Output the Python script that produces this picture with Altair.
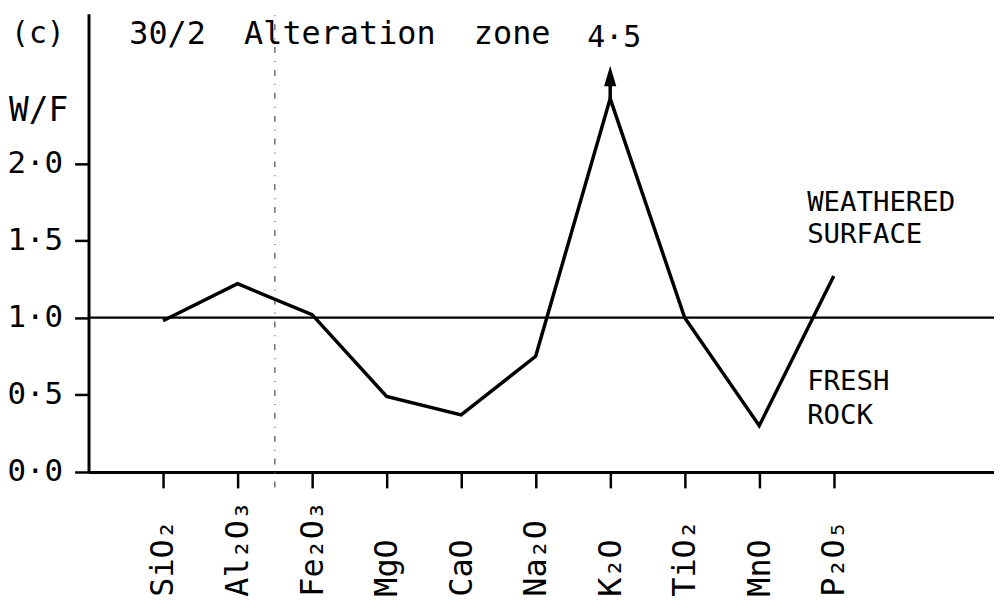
import altair as alt
import pandas as pd

# ---- data ----
oxides = ["SiO₂", "Al₂O₃", "Fe₂O₃", "MgO", "CaO", "Na₂O", "K₂O", "TiO₂", "MnO", "P₂O₅"]
wf_ratio = [0.98, 1.22, 1.02, 0.49, 0.37, 0.75, 4.5, 1.00, 0.30, 1.27]
break_level = 2.42      # where the off-scale K2O value is cut off on the plot
arrow_tip = 2.63
y_ticks = [0.0, 0.5, 1.0, 1.5, 2.0]
reference_level = 1.0
zone_boundary = 2.5     # faint dashed line between Al2O3 and Fe2O3

FONT = "DejaVu Sans Mono"
NBSP = "\u00a0"

idx = list(range(1, len(oxides) + 1))
df = pd.DataFrame({
    "i": idx,
    "oxide": oxides,
    "wf": wf_ratio,
    "wf_plot": [min(v, break_level) for v in wf_ratio],
})
over = df[df["wf"] > break_level].copy()
over["tip"] = arrow_tip
over["shaft_end"] = break_level + (arrow_tip - break_level) * 0.4
over["head_mid"] = break_level + (arrow_tip - break_level) * 0.7
over["label"] = over["wf"].map(lambda v: f"{v:.1f}".replace(".", "·"))

label_expr = "{" + ",".join(f"'{i}':'{o}'" for i, o in zip(idx, oxides)) + "}[datum.value]"

xscale = alt.Scale(domain=[0, 12.15], nice=False, zero=False)
yscale = alt.Scale(domain=[0, 2.97], nice=False, zero=False)

xaxis = alt.Axis(
    values=idx, labelExpr=label_expr,
    labelAngle=270, labelAlign="left", labelBaseline="middle",
    labelPadding=109, tickSize=16, tickWidth=2.5, domainWidth=3,
    domainColor="black", tickColor="black", labelColor="black",
    labelFont=FONT, labelFontSize=32, grid=False, title=None,
)
yaxis = alt.Axis(
    values=y_ticks, labelExpr="replace(format(datum.value, '.1f'), '.', '·')",
    tickSize=14, tickWidth=2.5, domainWidth=3, labelPadding=12,
    domainColor="black", tickColor="black", labelColor="black",
    labelFont=FONT, labelFontSize=31, grid=False, title=None,
)

base = alt.Chart(df)

line = base.mark_line(color="black", strokeWidth=3.5, strokeJoin="miter").encode(
    x=alt.X("i:Q", scale=xscale, axis=xaxis),
    y=alt.Y("wf_plot:Q", scale=yscale, axis=yaxis),
)

ref = alt.Chart(pd.DataFrame({"v": [reference_level]})).mark_rule(
    color="black", strokeWidth=2.2
).encode(y=alt.Y("v:Q", scale=yscale))

zone = alt.Chart(pd.DataFrame({"x": [zone_boundary], "y0": [-0.1], "y1": [2.97]})).mark_rule(
    color="#666666", strokeWidth=1.4, strokeDash=[6, 8, 1, 8]
).encode(x=alt.X("x:Q", scale=xscale), y=alt.Y("y0:Q", scale=yscale), y2="y1:Q")

shaft = alt.Chart(over).mark_rule(color="black", strokeWidth=3.5).encode(
    x=alt.X("i:Q", scale=xscale), y=alt.Y("wf_plot:Q", scale=yscale), y2="shaft_end:Q"
)
head = alt.Chart(over).mark_point(
    shape="M0,-1L0.6,1L-0.6,1Z", filled=True, color="black", opacity=1, size=420
).encode(x=alt.X("i:Q", scale=xscale), y=alt.Y("head_mid:Q", scale=yscale))
head_label = alt.Chart(over).mark_text(
    font=FONT, fontSize=30, color="black", baseline="middle", align="center", dx=4
).encode(x=alt.X("i:Q", scale=xscale), y=alt.value(24), text="label:N")

def note(txt, x, y, size=31, align="left"):
    return alt.Chart(pd.DataFrame({"t": [txt]})).mark_text(
        font=FONT, fontSize=size, color="black", align=align, baseline="middle"
    ).encode(x=alt.value(x), y=alt.value(y), text="t:N")

notes = [
    note("(c)", -78, 20, 30),
    note(f"30/2{NBSP}{NBSP}Alteration{NBSP}{NBSP}zone", 41, 20, 32),
    note("W/F", -80, 98, 33),
    note("WEATHERED", 723, 190, 27.5),
    note("SURFACE", 723, 223, 27.5),
    note("FRESH", 723, 371, 27.5),
    note("ROCK", 723, 405, 27.5),
]

chart = alt.layer(zone, ref, line, shaft, head, head_label, *notes).properties(
    width=911, height=461,
    autosize=alt.AutoSizeParams(type="none"),
    padding={"left": 81, "top": 4, "right": 0, "bottom": 130},
    background="white",
).configure_view(stroke=None)

chart.save("out.html", embed_options={"renderer": "svg", "actions": False})
